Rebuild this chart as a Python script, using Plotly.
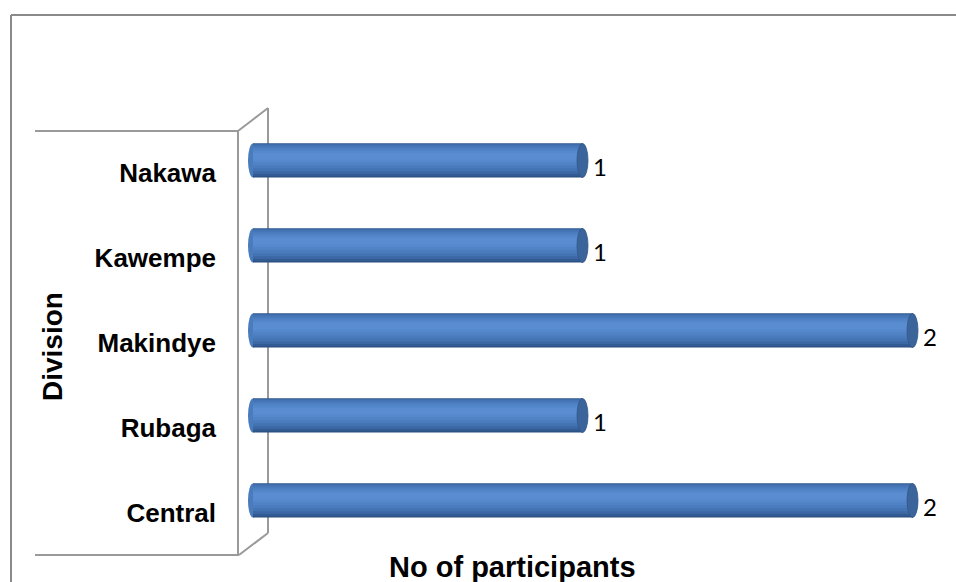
import plotly.graph_objects as go

# ---- data ----
divisions = ["Central", "Rubaga", "Makindye", "Kawempe", "Nakawa"]
participants = [2, 1, 2, 1, 1]
x_title = "No of participants"
y_title = "Division"

# ---- layout geometry (pixels) ----
FW, FH = 956, 582
L, R, T, B = 243, 950, 118, 543
W, H = R - L, B - T
ZERO_PX, UNIT_PX = 253, 330


def px(x):
    return (x - L) / W


def py(y):
    return (B - y) / H


ypos = list(range(len(divisions)))
x_range = [(L - ZERO_PX) / UNIT_PX, (R - ZERO_PX) / UNIT_PX]

# nested gradient layers (outer -> inner) for the cylinder look
layers = [
    (0.200, -0.200, "#2a4e80"),
    (0.200, -0.185, "#335b93"),
    (0.195, -0.160, "#3b68a5"),
    (0.185, -0.125, "#4373b3"),
    (0.165, -0.090, "#4a7bbd"),
    (0.140, -0.055, "#5082c6"),
    (0.115, -0.020, "#5588cc"),
    (0.090, 0.010, "#598cd1"),
]

fig = go.Figure()
for top, bot, col in layers:
    fig.add_trace(go.Bar(
        x=participants, y=ypos, orientation="h",
        offset=bot, width=top - bot,
        marker=dict(color=col, line=dict(width=0)),
        showlegend=False, hoverinfo="skip",
    ))

# invisible trace to carry the shifted category labels axis
fig.add_trace(go.Scatter(x=[None] * len(ypos), y=ypos, yaxis="y2",
                         mode="markers", showlegend=False, hoverinfo="skip"))

shapes = []
wall = "#9a9a9a"
# 3D wall outline (behind the bars)
for (x0, y0, x1, y1) in [
    (35, 131, 238, 131), (238, 131, 268, 108), (238, 131, 238, 555),
    (268, 108, 268, 533), (35, 555, 239, 555), (239, 555, 268, 533),
]:
    shapes.append(dict(type="line", xref="paper", yref="paper",
                       x0=px(x0), y0=py(y0), x1=px(x1), y1=py(y1),
                       line=dict(color=wall, width=2), layer="below"))
# chart frame (top and left visible)
frame = "#8a8a8a"
shapes.append(dict(type="line", xref="paper", yref="paper",
                   x0=px(11), y0=py(15), x1=px(FW + 5), y1=py(15),
                   line=dict(color=frame, width=2)))
shapes.append(dict(type="line", xref="paper", yref="paper",
                   x0=px(11), y0=py(15), x1=px(11), y1=py(FH + 5),
                   line=dict(color=frame, width=2)))

# cylinder caps
for v, yp in zip(participants, ypos):
    shapes.append(dict(type="circle", xref="x", yref="y", xsizemode="pixel",
                       xanchor=0, x0=-5, x1=5, y0=yp - 0.2, y1=yp + 0.2,
                       fillcolor="#4a7bbd", line=dict(width=0), layer="below"))
    shapes.append(dict(type="circle", xref="x", yref="y", xsizemode="pixel",
                       xanchor=v, x0=-6, x1=5, y0=yp - 0.2, y1=yp + 0.2,
                       fillcolor="#3b649b", line=dict(color="#30578a", width=0.8)))

annotations = []
for v, yp in zip(participants, ypos):
    annotations.append(dict(x=v, y=yp, xref="x", yref="y", text=str(v),
                            showarrow=False, xanchor="left", yanchor="middle",
                            xshift=8, yshift=-6,
                            font=dict(family="Lato", size=24, color="#000")))
annotations.append(dict(x=px(512), y=py(567), xref="paper", yref="paper",
                        text=f"<b>{x_title}</b>", showarrow=False,
                        xanchor="center", yanchor="middle",
                        font=dict(family="Liberation Sans", size=29, color="#000")))
annotations.append(dict(x=px(52), y=py(347), xref="paper", yref="paper",
                        text=f"<b>{y_title}</b>", showarrow=False, textangle=-90,
                        xanchor="center", yanchor="middle",
                        font=dict(family="Liberation Sans", size=28, color="#000")))

shift = 0.14
fig.update_layout(
    width=FW, height=FH,
    margin=dict(l=L, r=FW - R, t=T, b=FH - B, pad=0),
    paper_bgcolor="white", plot_bgcolor="rgba(0,0,0,0)",
    barmode="overlay",
    xaxis=dict(range=x_range, showgrid=False, zeroline=False,
               showticklabels=False, ticks="", showline=False, fixedrange=True),
    yaxis=dict(range=[-0.5, len(ypos) - 0.5], showgrid=False, zeroline=False,
               showticklabels=False, ticks="", showline=False),
    yaxis2=dict(range=[-0.5 + shift, len(ypos) - 0.5 + shift], overlaying="y",
                side="left", showgrid=False, zeroline=False, ticks="",
                tickvals=ypos, ticktext=divisions, ticklabelstandoff=26,
                showline=False,
                tickfont=dict(family="Liberation Sans", size=26, color="#000",
                              weight="bold")),
    shapes=shapes,
    annotations=annotations,
    font=dict(family="Liberation Sans"),
)

fig.write_html("out.html")
